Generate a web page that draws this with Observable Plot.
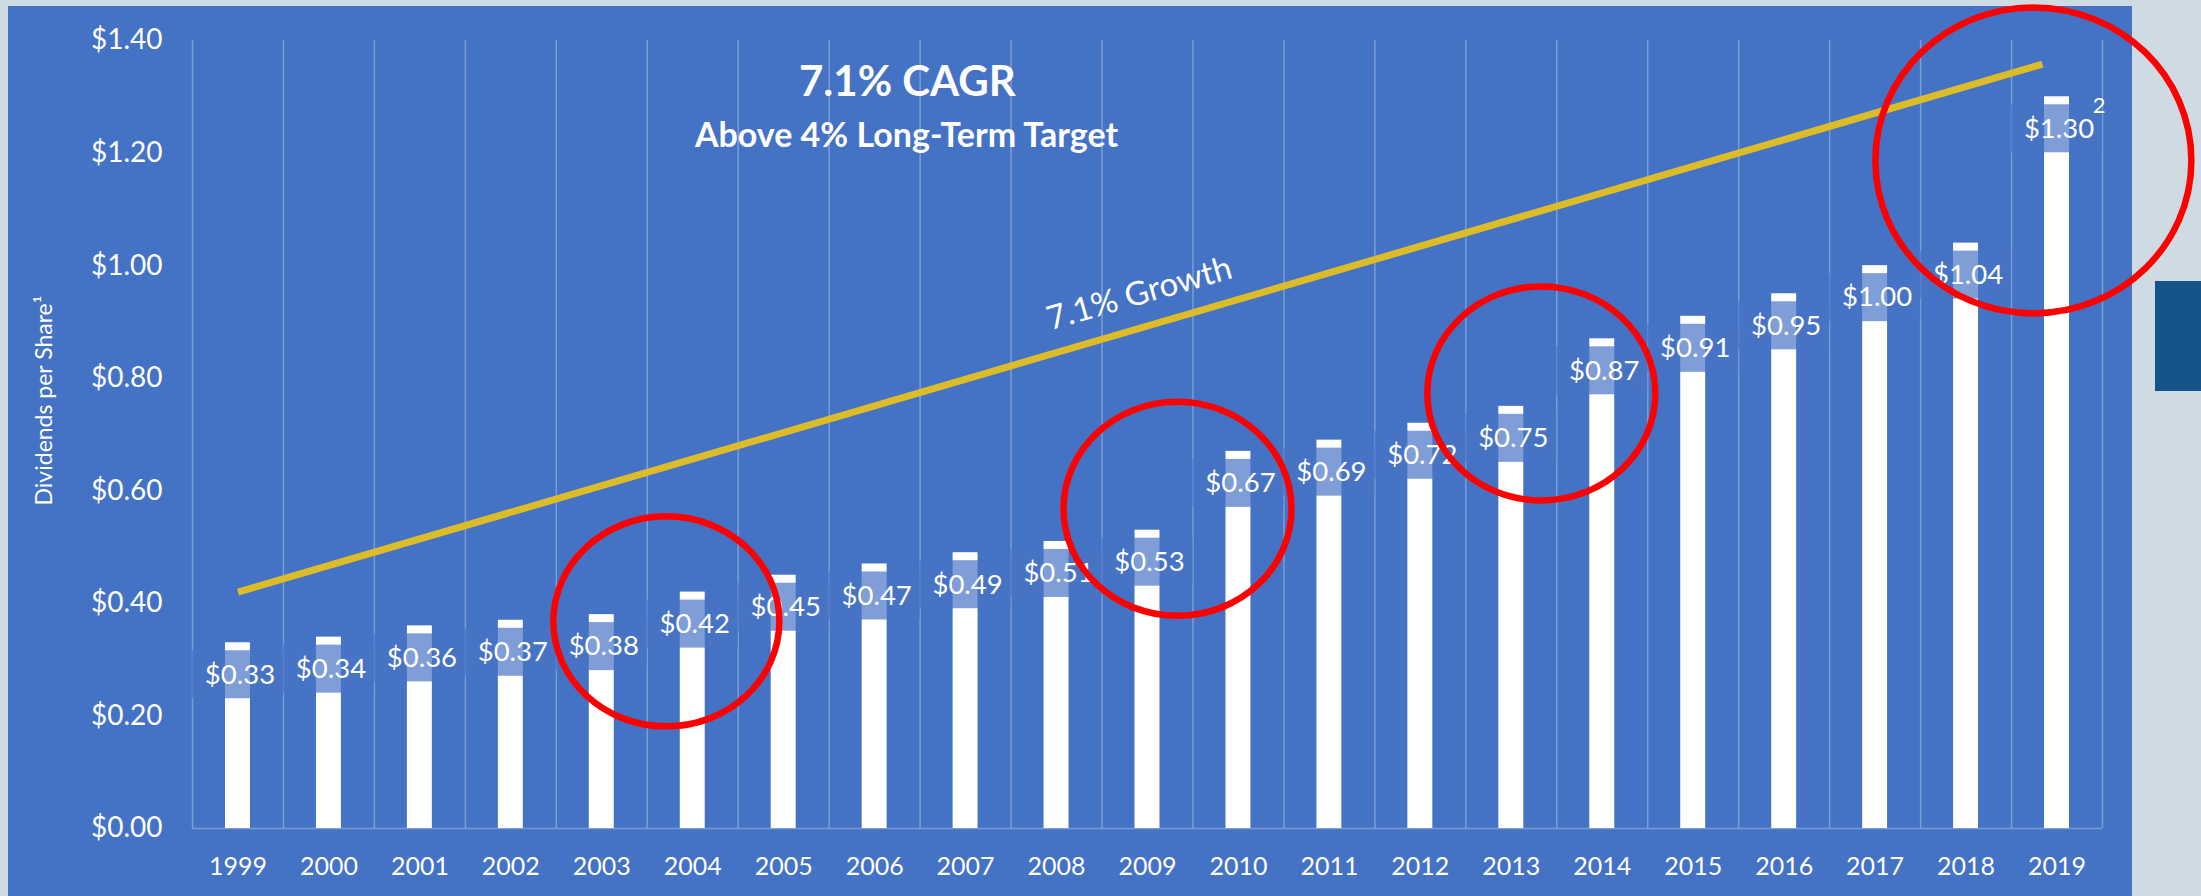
<!DOCTYPE html>
<html>
<head>
<meta charset="utf-8">
<script src="https://cdn.jsdelivr.net/npm/d3@7"></script>
<script src="https://cdn.jsdelivr.net/npm/@observablehq/plot@0.6"></script>
<style>
  html, body { margin: 0; padding: 0; }
  body { width: 2201px; height: 896px; background: #cfdbe3; position: relative; overflow: hidden; font-family: Lato, sans-serif; }
  #panel { position: absolute; left: 8px; top: 6px; width: 2124px; height: 890px; background: #4472c4; }
  #sidebox { position: absolute; left: 2155px; top: 281px; width: 46px; height: 110px; background: #15548a; }
  #chart { position: absolute; left: 0; top: 0; }
</style>
</head>
<body>
<div id="panel"></div>
<div id="sidebox"></div>
<div id="chart"></div>
<script>
// ---- data ----
const years = [1999, 2000, 2001, 2002, 2003, 2004, 2005, 2006, 2007, 2008, 2009,
               2010, 2011, 2012, 2013, 2014, 2015, 2016, 2017, 2018, 2019];
const dividends = [0.33, 0.34, 0.36, 0.37, 0.38, 0.42, 0.45, 0.47, 0.49, 0.51, 0.53,
                   0.67, 0.69, 0.72, 0.75, 0.87, 0.91, 0.95, 1.00, 1.04, 1.30];
const yTicks = [0, 0.2, 0.4, 0.6, 0.8, 1.0, 1.2, 1.4];
const growthYears = [1999, 2018.84];
const growthValues = [0.42, 1.358];
const titleText = "7.1% CAGR";
const subtitleText = "Above 4% Long-Term Target";
const growthText = "7.1% Growth";
const yLabelText = "Dividends per Share\u00B9";
const footnoteYear = 2019;
const footnoteText = "2";
// highlighted regions (centre year, centre value)
const highlightYears = [2003.71, 2009.33, 2013.33, 2018.74];
const highlightValues = [0.368, 0.568, 0.773, 1.187];

// ---- derived tables ----
const rows = years.map((year, i) => ({year, value: dividends[i]}));
const growth = growthYears.map((year, i) => ({year, value: growthValues[i]}));
const boundaries = [...years.map(y => y - 0.5), years[years.length - 1] + 0.5];
const highlights = highlightYears.map((x, i) => ({x, y: highlightValues[i]}));
const highlightRadii = [[113, 105], [114, 107], [114, 107], [158, 153]];

function ellipseSymbol(aspect) {
  return {
    draw(ctx, size) {
      const b = Math.sqrt(size / Math.PI), a = b * aspect, k = 0.5523;
      ctx.moveTo(a, 0);
      ctx.bezierCurveTo(a, b * k, a * k, b, 0, b);
      ctx.bezierCurveTo(-a * k, b, -a, b * k, -a, 0);
      ctx.bezierCurveTo(-a, -b * k, -a * k, -b, 0, -b);
      ctx.bezierCurveTo(a * k, -b, a, -b * k, a, 0);
      ctx.closePath();
    }
  };
}

const chart = Plot.plot({
  width: 2201,
  height: 896,
  marginLeft: 192,
  marginRight: 99,
  marginTop: 40,
  marginBottom: 68,
  x: {domain: [1998.5, 2019.5], label: null},
  y: {domain: [0, 1.4], label: null},
  style: {background: "transparent", color: "white", fontFamily: "Lato, sans-serif", overflow: "visible"},
  marks: [
    Plot.ruleX(boundaries, {y1: 0, y2: 1.4, stroke: "white", strokeOpacity: 0.3, strokeWidth: 1.5}),
    Plot.ruleY([0], {x1: 1998.5, x2: 2019.5, stroke: "white", strokeOpacity: 0.3, strokeWidth: 1.5}),
    Plot.rectY(rows, {x1: d => d.year - 0.5, x2: d => d.year + 0.5, y1: 0, y2: "value",
                      fill: "white", insetLeft: 33, insetRight: 33}),
    Plot.rect(rows, {x1: d => d.year - 0.5, x2: d => d.year + 0.5, y1: "value", y2: "value",
                     insetTop: 8, insetBottom: -56, fill: "#4874c6", fillOpacity: 0.7}),
    Plot.line(growth, {x: "year", y: "value", stroke: "#ddbc2a", strokeWidth: 7, strokeLinecap: "butt"}),
    Plot.text(rows, {x: "year", y: "value", text: d => "$" + d.value.toFixed(2),
                     dy: 32, dx: 2, fill: "white", fontSize: 27.5}),
    Plot.text(rows.filter(d => d.year === footnoteYear), {x: "year", y: "value", text: () => footnoteText,
                     dx: 42, dy: 9, fill: "white", fontSize: 22}),
    Plot.axisX(years, {tickSize: 0, tickPadding: 29, fontSize: 25, tickFormat: d => String(d), label: null}),
    Plot.axisY(yTicks, {tickSize: 0, tickPadding: 30, fontSize: 28, tickFormat: d => "$" + d.toFixed(2), label: null}),
    Plot.text([yLabelText], {frameAnchor: "left", textAnchor: "middle", lineAnchor: "middle", text: d => d,
                     rotate: -90, dx: -148, dy: -34, fill: "white", fontSize: 23}),
    Plot.text([{x: 2006.36, y: 1.325, t: titleText}], {x: "x", y: "y", text: "t", fill: "white",
                     fontSize: 42, fontWeight: "bold"}),
    Plot.text([{x: 2006.35, y: 1.231, t: subtitleText}], {x: "x", y: "y", text: "t", fill: "white",
                     fontSize: 34, fontWeight: "bold"}),
    Plot.text([{x: 2008.91, y: 0.95, t: growthText}], {x: "x", y: "y", text: "t", fill: "white",
                     fontSize: 33, rotate: -16}),
    ...highlights.map((h, i) => Plot.dot([h], {x: "x", y: "y", r: highlightRadii[i][1],
                     symbol: ellipseSymbol(highlightRadii[i][0] / highlightRadii[i][1]),
                     stroke: "#ff0000", strokeWidth: 6.5, fill: "none"}))
  ]
});
document.getElementById("chart").appendChild(chart);
</script>
</body>
</html>
